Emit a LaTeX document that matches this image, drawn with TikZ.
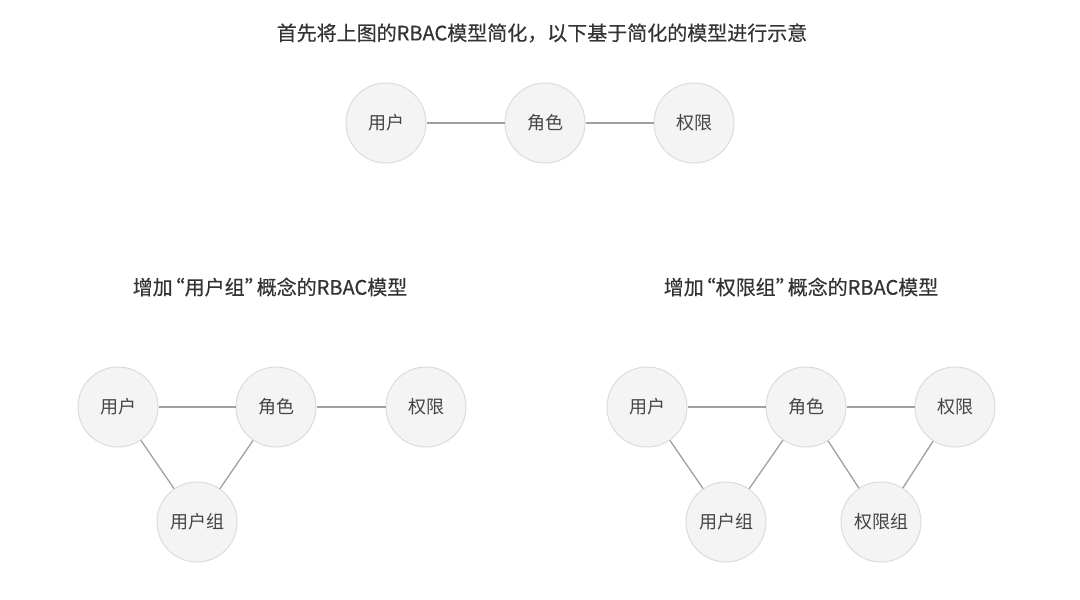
\documentclass[tikz,border=0pt]{standalone}
\usepackage{fontspec}
\setmainfont{Noto Sans CJK SC}
\newfontfamily\titelfont[FakeBold=0.35]{Noto Sans CJK SC}
\definecolor{circfill}{HTML}{F4F4F4}
\definecolor{circline}{HTML}{DCDCDC}
\definecolor{linkgray}{HTML}{A0A0A0}
\definecolor{textgray}{HTML}{454545}
\definecolor{titlegray}{HTML}{333333}
\newcommand{\zitatauf}{\kern-8pt“}
\newcommand{\zitatzu}{”\kern-8pt}
\tikzset{
  rolle/.style={circle, fill=circfill, draw=circline, line width=1pt,
    minimum size=80pt, inner sep=0pt, text=textgray,
    font=\fontsize{18pt}{22pt}\selectfont},
  titel/.style={text=titlegray, font=\titelfont\fontsize{20pt}{24pt}\selectfont},
  link/.style={draw=linkgray, line width=1.3pt}
}
\begin{document}
\begin{tikzpicture}[x=1pt, y=-1pt]
    \useasboundingbox[fill=white] (0,0) rectangle (1080,600);
    % oben: vereinfachtes Modell
    \node[titel] (t0) at (542,33) {首先将上图的RBAC模型简化，以下基于简化的模型进行示意};
    \node[rolle] (u0) at (386,123) {用户};
    \node[rolle] (r0) at (545,123) {角色};
    \node[rolle] (p0) at (694,123) {权限};
    \draw[link] (u0) -- (r0);
    \draw[link] (r0) -- (p0);
    % links: Benutzergruppe
    \node[titel] (t1) at (270,287) {增加\zitatauf 用户组\zitatzu 概念的RBAC模型};
    \node[rolle] (u1) at (118,407) {用户};
    \node[rolle] (r1) at (276,407) {角色};
    \node[rolle] (p1) at (426,407) {权限};
    \node[rolle] (ug1) at (197,522) {用户组};
    \draw[link] (u1) -- (r1);
    \draw[link] (r1) -- (p1);
    \draw[link] (u1) -- (ug1);
    \draw[link] (ug1) -- (r1);
    % rechts: Rechtegruppe
    \node[titel] (t2) at (801,287) {增加\zitatauf 权限组\zitatzu 概念的RBAC模型};
    \node[rolle] (u2) at (647,407) {用户};
    \node[rolle] (r2) at (806,407) {角色};
    \node[rolle] (p2) at (955,407) {权限};
    \node[rolle] (ug2) at (726,522) {用户组};
    \node[rolle] (pg2) at (881,522) {权限组};
    \draw[link] (u2) -- (r2);
    \draw[link] (r2) -- (p2);
    \draw[link] (u2) -- (ug2);
    \draw[link] (ug2) -- (r2);
    \draw[link] (r2) -- (pg2);
    \draw[link] (pg2) -- (p2);
\end{tikzpicture}
\end{document}
